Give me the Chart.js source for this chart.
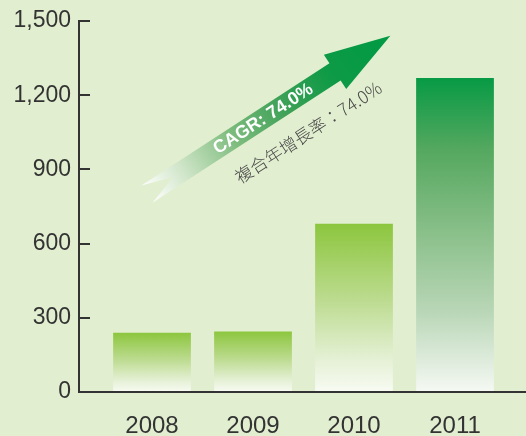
<!DOCTYPE html>
<html>
<head>
<meta charset="utf-8">
<script src="https://cdn.jsdelivr.net/npm/chart.js@4.4.0/dist/chart.umd.min.js"></script>
<style>
  html, body { margin: 0; padding: 0; background: #e1eecf; }
  #wrap { width: 526px; height: 436px; }
</style>
</head>
<body>
<div id="wrap"><canvas id="chart" width="526" height="436"></canvas></div>
<script>
// values
const years = ["2008", "2009", "2010", "2011"];
const positions = [0, 1, 2, 3];
const revenue = [240, 245, 680, 1270];
const yTicks = [0, 300, 600, 900, 1200, 1500];
const cagrText = "CAGR: 74.0%";
const cagrTextZh = "複合年增長率：74.0%";
// arrow anchored in data units: [x position, y value]
const arrowTail = [-0.05, 800];
const arrowTip = [2.36, 1440];

const FONT = '"Liberation Sans", Arial, Helvetica, sans-serif';
const INK = "#333333";

const lightStops = [[0, "#8cc63e"], [0.45, "#bcdb8f"], [0.8, "#e4f0d4"], [1, "#f8fbf3"]];
const darkStops = [[0, "#079a45"], [0.23, "#55a85f"], [0.5, "#8bc08b"], [0.74, "#b8d6b6"], [1, "#f6f9f4"]];

function barFill(c) {
  const chart = c.chart;
  const y = chart.scales.y;
  const fallback = c.dataIndex === 3 ? darkStops[0][1] : lightStops[0][1];
  if (!y || !chart.chartArea || c.type !== "data" || !c.raw) return fallback;
  const top = y.getPixelForValue(c.raw.y);
  const base = y.getPixelForValue(0);
  if (!isFinite(top) || !isFinite(base)) return fallback;
  const g = chart.ctx.createLinearGradient(0, top, 0, base);
  const stops = c.dataIndex === 3 ? darkStops : lightStops;
  stops.forEach(([o, col]) => g.addColorStop(o, col));
  return g;
}

const background = {
  id: "background",
  beforeDraw(chart) {
    const { ctx, width, height } = chart;
    ctx.save();
    ctx.fillStyle = "#e1eecf";
    ctx.fillRect(0, 0, width, height);
    ctx.restore();
  },
};

const cagrArrow = {
  id: "cagrArrow",
  afterDatasetsDraw(chart) {
    const { ctx, scales: { x, y } } = chart;
    const x0 = x.getPixelForValue(arrowTail[0]), y0 = y.getPixelForValue(arrowTail[1]);
    const x1 = x.getPixelForValue(arrowTip[0]), y1 = y.getPixelForValue(arrowTip[1]);
    const len = Math.hypot(x1 - x0, y1 - y0);
    const ang = Math.atan2(y1 - y0, x1 - x0);
    const sh = 10.25, hh = 20.5, hl = 66, notch = 31;
    ctx.save();
    ctx.translate(x0, y0);
    ctx.rotate(ang);
    ctx.beginPath();
    ctx.moveTo(0, -sh);
    ctx.lineTo(notch, 0);
    ctx.lineTo(0, sh);
    ctx.lineTo(len - hl, sh);
    ctx.lineTo(len - hl, hh);
    ctx.lineTo(len, 0);
    ctx.lineTo(len - hl, -hh);
    ctx.lineTo(len - hl, -sh);
    ctx.closePath();
    const g = ctx.createLinearGradient(0, 0, len, 0);
    g.addColorStop(0, "rgba(255,255,255,0.95)");
    g.addColorStop(0.15, "#cfe5c8");
    g.addColorStop(0.35, "#7fbd7f");
    g.addColorStop(0.55, "#40a258");
    g.addColorStop(0.75, "#0e9a46");
    g.addColorStop(1, "#009a44");
    ctx.fillStyle = g;
    ctx.fill();

    ctx.textAlign = "center";
    ctx.textBaseline = "middle";
    ctx.fillStyle = "#ffffff";
    ctx.font = "bold 18px " + FONT;
    ctx.fillText(cagrText, 138.5, 0.5);
    ctx.fillStyle = "#4a4a4a";
    ctx.font = '300 17.5px "Noto Sans CJK TC", sans-serif';
    ctx.fillText(cagrTextZh, 169, 36);
    ctx.restore();
  },
};

new Chart(document.getElementById("chart"), {
  type: "bar",
  data: {
    datasets: [{
      data: positions.map((p, i) => ({ x: p, y: revenue[i] })),
      backgroundColor: barFill,
      borderWidth: 0,
      categoryPercentage: 1,
      barPercentage: 0.77,
    }],
  },
  options: {
    responsive: false,
    animation: false,
    events: [],
    layout: { padding: { top: 21, left: 0, right: 0, bottom: 0 } },
    plugins: { legend: { display: false }, tooltip: { enabled: false } },
    scales: {
      x: {
        type: "linear",
        offset: false,
        min: -0.723,
        max: 3.703,
        afterBuildTicks: s => { s.ticks = positions.map(v => ({ value: v })); },
        afterFit: s => { s.height = 44; s.paddingLeft = 0; s.paddingRight = 0; },
        ticks: {
          callback: v => years[v],
          color: INK,
          font: { size: 24, family: FONT },
          padding: 20,
          autoSkip: false,
          maxRotation: 0,
        },
        grid: { display: false, drawTicks: false },
        border: { display: true, color: INK, width: 2 },
      },
      y: {
        min: 0,
        max: 1500,
        afterBuildTicks: s => { s.ticks = yTicks.map(v => ({ value: v })); },
        afterFit: s => { s.width = 79; s.paddingTop = 0; s.paddingBottom = 0; },
        ticks: {
          callback: v => v.toLocaleString("en-US"),
          color: INK,
          font: { size: 23, family: FONT },
          padding: 19,
        },
        grid: { drawOnChartArea: false, color: INK, lineWidth: 2, tickLength: -11, tickColor: INK, tickWidth: 2 },
        border: { display: true, color: INK, width: 2 },
      },
    },
  },
  plugins: [background, cagrArrow],
});
</script>
</body>
</html>
